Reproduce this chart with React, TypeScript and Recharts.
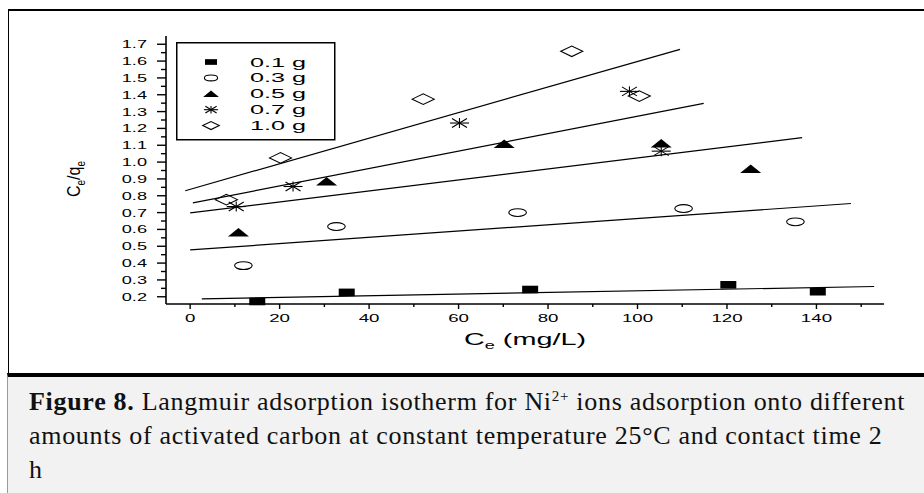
import { ScatterChart, Scatter, XAxis, YAxis, Legend } from 'recharts';

const seriesNames = ['0.1 g', '0.3 g', '0.5 g', '0.7 g', '1.0 g'];
const markerKinds = ['square', 'circle', 'triangle', 'star', 'diamond'];

// measured points: Ce (mg/L) and Ce/qe
const ce01 = [15, 35, 76, 120.3, 140.3];
const q01 = [0.172, 0.226, 0.243, 0.271, 0.23];
const ce03 = [11.9, 32.7, 73.2, 110.3, 135.3];
const q03 = [0.385, 0.617, 0.7, 0.724, 0.645];
const ce05 = [10.8, 30.5, 70.2, 105.3, 125.3];
const q05 = [0.583, 0.886, 1.109, 1.112, 0.96];
const ce07 = [10.3, 23, 60.2, 98.2, 105.3];
const q07 = [0.736, 0.855, 1.232, 1.42, 1.065];
const ce10 = [8.1, 20.2, 52.1, 85.3, 100.4];
const q10 = [0.777, 1.025, 1.374, 1.658, 1.392];

// linear fits, start and end points
const fitCe01 = [2.6, 152.9];
const fitQ01 = [0.188, 0.261];
const fitCe03 = [0, 147.7];
const fitQ03 = [0.478, 0.754];
const fitCe05 = [0, 136.8];
const fitQ05 = [0.698, 1.145];
const fitCe07 = [0.6, 114.8];
const fitQ07 = [0.758, 1.349];
const fitCe10 = [-1.1, 109.5];
const fitQ10 = [0.83, 1.67];

const xTicks = [0, 10, 20, 30, 40, 50, 60, 70, 80, 90, 100, 110, 120, 130, 140, 150];
const xLabels = [0, 20, 40, 60, 80, 100, 120, 140];
const yTicks = [
  0.2, 0.25, 0.3, 0.35, 0.4, 0.45, 0.5, 0.55, 0.6, 0.65, 0.7, 0.75, 0.8, 0.85,
  0.9, 0.95, 1.0, 1.05, 1.1, 1.15, 1.2, 1.25, 1.3, 1.35, 1.4, 1.45, 1.5, 1.55,
  1.6, 1.65, 1.7,
];
const yLabels = [0.2, 0.3, 0.4, 0.5, 0.6, 0.7, 0.8, 0.9, 1.0, 1.1, 1.2, 1.3, 1.4, 1.5, 1.6, 1.7];

const pts = (xs: number[], ys: number[]) => xs.map((x, i) => ({ x, y: ys[i] }));

const points = [pts(ce01, q01), pts(ce03, q03), pts(ce05, q05), pts(ce07, q07), pts(ce10, q10)];
const fits = [
  pts(fitCe01, fitQ01),
  pts(fitCe03, fitQ03),
  pts(fitCe05, fitQ05),
  pts(fitCe07, fitQ07),
  pts(fitCe10, fitQ10),
];

const sans = '"Liberation Sans", Arial, sans-serif';

// the figure is stretched sideways, so text gets a horizontal scale
const WideText = ({ x, y, sx, size, anchor = 'start', children }: any) => (
  <text
    transform={`translate(${x},${y}) scale(${sx},1)`}
    textAnchor={anchor}
    fontSize={size}
    fontFamily={sans}
    fill="#000"
  >
    {children}
  </text>
);

function Marker({ kind, cx, cy, k = 1 }: any) {
  if (kind === 'square')
    return <rect x={cx - 8 * k} y={cy - 3.8 * k} width={16 * k} height={7.6 * k} fill="#000" />;
  if (kind === 'circle')
    return <ellipse cx={cx} cy={cy} rx={8.8 * k} ry={3.9 * k} fill="none" stroke="#000" strokeWidth={1.1} />;
  if (kind === 'triangle')
    return (
      <polygon
        points={`${cx - 10.5 * k},${cy + 4.3 * k} ${cx + 10.5 * k},${cy + 4.3 * k} ${cx},${cy - 4.3 * k}`}
        fill="#000"
      />
    );
  if (kind === 'star')
    return (
      <g stroke="#000" strokeWidth={1.1}>
        <line x1={cx - 9.5 * k} x2={cx + 9.5 * k} y1={cy} y2={cy} />
        <line x1={cx} x2={cx} y1={cy - 5 * k} y2={cy + 5 * k} />
        <line x1={cx - 7.5 * k} x2={cx + 7.5 * k} y1={cy - 4.5 * k} y2={cy + 4.5 * k} />
        <line x1={cx - 7.5 * k} x2={cx + 7.5 * k} y1={cy + 4.5 * k} y2={cy - 4.5 * k} />
      </g>
    );
  return (
    <polygon
      points={`${cx - 11 * k},${cy} ${cx},${cy - 5.3 * k} ${cx + 11 * k},${cy} ${cx},${cy + 5.3 * k}`}
      fill="none"
      stroke="#000"
      strokeWidth={1.1}
    />
  );
}

const XTick = ({ x, y, payload }: any) => {
  const major = xLabels.includes(payload.value);
  return (
    <g>
      <line x1={x} x2={x} y1={y} y2={y + (major ? 5 : 3)} stroke="#000" strokeWidth={1.4} />
      {major && (
        <WideText x={x} y={y + 18} sx={1.7} size={11} anchor="middle">
          {payload.value}
        </WideText>
      )}
    </g>
  );
};

const TopTick = ({ x, y, payload }: any) => {
  const major = xLabels.includes(payload.value);
  return <line x1={x} x2={x} y1={y} y2={y + (major ? 4 : 2)} stroke="#000" strokeWidth={1.2} />;
};

const YTick = ({ x, y, payload }: any) => {
  const major = yLabels.includes(payload.value);
  return (
    <g>
      <line x1={x} x2={x - (major ? 9 : 5)} y1={y} y2={y} stroke="#000" strokeWidth={1.4} />
      {major && (
        <WideText x={x - 19} y={y + 4} sx={1.65} size={11} anchor="end">
          {payload.value.toFixed(1)}
        </WideText>
      )}
    </g>
  );
};

const XTitle = ({ viewBox }: any) => (
  <text
    transform={`translate(${viewBox.x + viewBox.width / 2},${viewBox.y + 41}) scale(1.8,1)`}
    textAnchor="middle"
    fontSize={16}
    fontFamily={sans}
  >
    C<tspan fontSize={10} dy={4}>e</tspan>
    <tspan dy={-4}> (mg/L)</tspan>
  </text>
);

const YTitle = () => (
  <text
    transform="translate(80,179) rotate(-90) scale(1,1.2)"
    textAnchor="middle"
    fontSize={16}
    fontFamily={sans}
  >
    C<tspan fontSize={10} dy={4}>e</tspan>
    <tspan dy={-4}>/q</tspan>
    <tspan fontSize={10} dy={4}>e</tspan>
  </text>
);

const LegendBox = () => (
  <svg width={160} height={100} style={{ display: 'block' }}>
    <rect x={0.75} y={0.75} width={158} height={97} fill="#fff" stroke="#000" strokeWidth={1.5} />
    {seriesNames.map((name, i) => {
      const cy = 20 + i * 15.9;
      return (
        <g key={name}>
          <Marker kind={markerKinds[i]} cx={35} cy={cy} k={0.75} />
          <WideText x={74} y={cy + 4.5} sx={2.1} size={12}>
            {name}
          </WideText>
        </g>
      );
    })}
  </svg>
);

export default function App() {
  return (
    <div
      style={{
        position: 'fixed',
        left: 0,
        top: 0,
        width: 924,
        height: 493,
        background: '#fff',
        overflow: 'hidden',
      }}
    >
      <div
        style={{
          position: 'absolute',
          left: 8,
          top: 9,
          width: 940,
          height: 364,
          borderTop: '2px solid #000',
          borderLeft: '1.5px solid #000',
        }}
      />
      <div style={{ position: 'absolute', left: 0, top: 0 }}>
        <ScatterChart width={924} height={372} margin={{ top: 36, right: 40, bottom: 0, left: 0 }}>
          <XAxis
            type="number"
            dataKey="x"
            domain={[-5.4, 155.1]}
            ticks={xTicks}
            interval={0}
            tickSize={0}
            tickMargin={0}
            tick={<XTick />}
            height={68}
            axisLine={{ stroke: '#000', strokeWidth: 1.6 }}
            label={<XTitle />}
          />
          <XAxis
            xAxisId="top"
            orientation="top"
            type="number"
            domain={[-5.4, 155.1]}
            ticks={xTicks}
            interval={0}
            tickSize={0}
            tickMargin={0}
            tick={<TopTick />}
            height={0}
            axisLine={{ stroke: '#000', strokeWidth: 1.4 }}
          />
          <YAxis
            type="number"
            dataKey="y"
            domain={[0.157, 1.749]}
            ticks={yTicks}
            interval={0}
            tickSize={0}
            tickMargin={0}
            tick={<YTick />}
            width={166}
            axisLine={{ stroke: '#000', strokeWidth: 1.6 }}
            label={<YTitle />}
          />
          <YAxis
            yAxisId="right"
            orientation="right"
            type="number"
            domain={[0.157, 1.749]}
            tick={false}
            tickLine={false}
            width={0}
            axisLine={{ stroke: '#000', strokeWidth: 1.8 }}
          />
          {fits.map((data, i) => (
            <Scatter
              key={'fit' + i}
              data={data}
              line={{ stroke: '#000', strokeWidth: 1.2 }}
              shape={() => <g />}
              legendType="none"
              isAnimationActive={false}
            />
          ))}
          {points.map((data, i) => (
            <Scatter
              key={seriesNames[i]}
              name={seriesNames[i]}
              data={data}
              shape={(p: any) => <Marker kind={markerKinds[i]} cx={p.cx} cy={p.cy} />}
              isAnimationActive={false}
            />
          ))}
          <Legend
            content={<LegendBox />}
            layout="horizontal"
            verticalAlign="middle"
            align="center"
            wrapperStyle={{ left: 176, top: 42, width: 160, height: 100 }}
          />
        </ScatterChart>
      </div>
      <div
        style={{
          position: 'absolute',
          left: 7,
          top: 373,
          width: 930,
          height: 120,
          background: '#f2f2f2',
          borderTop: '4px solid #000',
          borderLeft: '1px solid #9a9a9a',
          boxSizing: 'border-box',
        }}
      >
        <div
          style={{
            position: 'absolute',
            left: 21,
            top: 2,
            fontFamily: '"Liberation Serif", "Times New Roman", serif',
            fontSize: 26,
            letterSpacing: 0.7,
            lineHeight: '34px',
            whiteSpace: 'nowrap',
            color: '#111',
          }}
        >
          <b>Figure 8.</b> Langmuir adsorption isotherm for Ni<sup style={{ fontSize: 15, verticalAlign: 9 }}>2+</sup>{' '}
          ions adsorption onto different
          <br />
          amounts of activated carbon at constant temperature 25°C and contact time 2
          <br />h
        </div>
      </div>
    </div>
  );
}
